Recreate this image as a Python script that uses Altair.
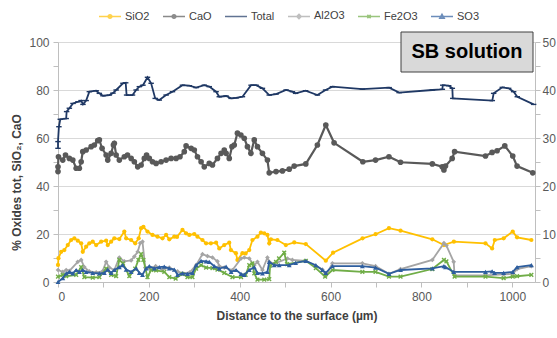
import altair as alt
import pandas as pd

SERIES = ["SiO2", "CaO", "Total", "Al2O3", "Fe2O3", "SO3"]
COLORS = ["#FFC000", "#595959", "#1F3864", "#A5A5A5", "#70AD47", "#2E5E9E"]

TOTAL_X = [0, 0, 2, 5, 18, 19, 25, 33, 44, 51, 55, 62, 69, 84, 91, 99, 113, 121, 128, 143,
           149, 151, 164, 172, 179, 187, 197, 205, 214, 223, 238, 252, 274, 289, 304, 322, 333, 348, 355, 370,
           381, 392, 406, 425, 436, 450, 465, 480, 502, 516, 523, 545, 571, 589, 604, 670, 729, 751, 824, 846,
           847, 860, 868, 869, 956, 959, 978, 992, 1003, 1011, 1047]
TOTAL_Y = [55.7, 58.5, 64.7, 67.8, 68.1, 71, 72.4, 74.4, 75.1, 75.6, 74, 75.6, 79.3, 79.7, 78.6, 77.6, 77.9, 78.7, 80, 82.8,
           83, 77.9, 77.9, 80, 81.4, 82, 85.3, 82.8, 76.5, 75.8, 77.9, 79.3, 82, 81.8, 81, 82, 81.4, 79.3, 77.2, 77.5,
           76.5, 76.7, 77.2, 82, 82, 80.7, 77.9, 78.3, 80, 79.3, 78.6, 79.7, 77.9, 80, 81.4, 80.4, 81, 78.9, 80, 80.3,
           82, 81.8, 80.7, 76.5, 75.6, 78.6, 81.1, 80.7, 79.3, 77.2, 74]

CAO_X = [0, 0, 1, 10.5, 16.5, 25, 32.6, 40, 47, 51, 54.5, 62, 73, 80, 87.5, 91, 97, 106, 109.5, 117,
         122, 124, 128, 135, 146, 153, 161, 168, 175.5, 183, 190, 195, 201, 208, 216, 227, 238, 249, 260, 268.5,
         278, 282, 293, 300, 307, 315, 322, 333, 340, 351, 359, 366, 370, 377, 383, 388, 395, 402.6, 410, 417,
         424.6, 432, 439, 450, 461, 465, 480, 494, 509, 520, 545.5, 571, 589.5, 607.7, 671, 699, 728.5, 754, 824, 845.7,
         849.5, 853, 867.7, 873, 941, 955.6, 966.6, 983.5, 1001, 1010.5, 1045]
CAO_Y = [46, 48, 52.2, 50.8, 52.9, 51.5, 50.8, 47.4, 47.4, 50.1, 54.3, 55, 56.4, 57.1, 58.9, 59.2, 55.7, 52.9, 50.8, 53.6,
         57.1, 57.8, 52.9, 50.8, 52.2, 52.9, 51.5, 50.1, 48, 48.75, 51.5, 52.9, 51.5, 50.1, 49.4, 50.1, 50.8, 51.5, 51.5, 52.2,
         54.3, 56.7, 55.7, 55, 52.2, 50.1, 48, 49.4, 48.75, 51.5, 53.6, 55, 53.6, 51.5, 56.4, 57.1, 62, 61.25, 59.9, 56.4,
         53.6, 59.2, 56.4, 53.6, 50.8, 45.5, 46, 46.3, 47, 48.3, 49.2, 57.1, 65.4, 58, 50.1, 50.8, 52.2, 49.9, 49.2, 48,
         46.7, 48.3, 51.5, 54.3, 52.5, 54, 54.7, 56.7, 52.5, 48.3, 45.5]

SIO2_X = [0, 1, 7, 14, 21.5, 29, 36, 43.5, 51, 54.5, 62, 69, 76.5, 84, 95, 106, 109.5, 117, 124, 135,
          146, 150, 161, 170, 177.6, 183, 188, 197, 208, 219, 230, 238, 245, 256, 262, 274, 282, 289, 300, 307,
          318, 326, 336.6, 348, 355, 366, 377, 380.6, 391.6, 395, 406, 413, 421, 428, 439, 446.6, 454, 461, 465, 468.6,
          483, 501.5, 520, 545.5, 589.5, 605.5, 670.4, 699, 728.5, 754, 824, 849.5, 871.4, 941, 955.6, 961.5, 981, 1001, 1010.5, 1042]
SIO2_Y = [7.1, 9.9, 12.6, 13.3, 15.4, 17.5, 18.2, 17.2, 16.1, 12.6, 14.7, 16.1, 16.8, 15.4, 16.8, 17.2, 15.4, 16.8, 18.2, 17.9,
          21, 18.2, 17.5, 16.1, 18.2, 22.4, 23, 21, 19.6, 18.9, 18.2, 19.6, 17.8, 18.9, 18.8, 21.7, 20.3, 19.6, 20, 18.9,
          17.5, 16.1, 16.1, 16.4, 14, 15.4, 16.4, 13.3, 12, 9.2, 12, 11.9, 13.3, 17.5, 18.9, 20.6, 20.3, 19.6, 16.1, 17.8,
          17.5, 15.4, 16.5, 15.8, 8.9, 12.2, 18.2, 19.9, 22.4, 21.4, 17.8, 15.4, 16.8, 16.1, 14, 17.5, 18.2, 21, 18.6, 17.5]

SO3_X = [0, 10.5, 18, 25, 32.6, 40, 47, 54.5, 62, 76.5, 91, 102, 109.5, 117, 124, 135, 142.5, 150, 161, 172,
         179, 186, 194, 201, 212, 223, 234, 245, 256, 263, 274, 285, 296, 304, 315, 326, 333, 344, 355, 370,
         381, 392, 403, 410, 421, 432, 439, 450, 461, 465, 476, 487, 509, 523, 545.5, 567.6, 582, 589.5, 604, 670,
         699, 728.5, 754, 824, 849.5, 853, 871, 941, 955.6, 961, 981, 1001, 1010.5, 1042]
SO3_Y = [0, 0.8, 1.8, 2.1, 1.8, 2.5, 2.1, 2.5, 2.1, 1.9, 1.8, 1.9, 2.6, 1.9, 2.5, 3.1, 3.5, 2.6, 2.1, 2.85,
         1.9, 1.5, 2.85, 3.3, 2.85, 3.1, 3.2, 2.85, 2.6, 1.5, 1.8, 1.7, 1.9, 3.5, 4.4, 4.3, 4.2, 3.3, 2.8, 3.2,
         2.1, 2.5, 1.7, 1.5, 2.5, 3.1, 1.9, 1.8, 2.1, 4.2, 3.5, 3.5, 3.5, 4.0, 4.4, 3.5, 2.5, 1.9, 3.3, 3.3,
         3.0, 1.7, 2.5, 2.85, 3.3, 3.1, 2.1, 2.1, 2.2, 1.9, 1.9, 2.1, 3.1, 3.5]

AL2O3_X = [0, 10.5, 18, 25, 43.5, 51, 58, 69, 84, 98, 106, 113, 124, 135, 146, 161, 168, 175.5, 181, 186,
           192, 201, 215, 230, 245, 263, 274, 290, 304, 318, 329, 340, 351, 355, 366, 384, 403, 410, 421, 432,
           439, 450, 461, 465, 476, 505, 516, 545.5, 582, 589.5, 604, 670, 699, 728.5, 754, 824, 849.5, 855, 871, 873,
           941, 981, 1001, 1010.5, 1042]
AL2O3_Y = [2.5, 2.1, 2.5, 2.3, 4.2, 4.6, 3.1, 2.2, 2.0, 2.2, 4.2, 3.0, 2.5, 5.1, 4.3, 4.5, 5.3, 6.3, 8.1, 8.4,
           3.0, 2.8, 3.3, 2.6, 3.0, 2.2, 1.8, 2.0, 3.5, 5.8, 5.4, 5.1, 4.3, 3.3, 3.0, 2.5, 4.9, 5.1, 4.9, 3.5,
           4.2, 2.5, 5.1, 4.2, 3.8, 4.9, 4.6, 4.4, 2.6, 1.3, 3.9, 3.9, 3.3, 1.7, 2.7, 4.6, 8.1, 7.6, 4.2, 1.4,
           1.4, 1.6, 1.7, 2.7, 3.3]

FE2O3_X = [0, 10.5, 18, 40, 51, 58, 76.5, 91, 106, 117, 128, 135, 143, 157, 170, 177, 183, 188, 197, 205,
           216, 234, 245, 259, 274, 285, 296, 304, 315, 326, 340, 351, 366, 384, 403, 413, 421, 428, 432, 439,
           454, 465, 467, 480, 486.5, 498, 504, 545.5, 567.6, 588, 604, 670, 699, 728.5, 754, 824, 849.5, 855, 873, 941,
           981, 1001, 1010.5, 1042]
FE2O3_Y = [1.1, 1.5, 1.2, 1.5, 3.1, 1.0, 0.9, 1.0, 2.8, 1.5, 1.2, 4.6, 3.9, 1.2, 2.8, 4.6, 5.8, 4.6, 1.0, 2.5,
           2.4, 2.1, 1.0, 0.7, 1.7, 1.0, 1.0, 2.8, 3.5, 3.0, 2.9, 2.6, 1.9, 1.0, 1.0, 1.5, 3.5, 3.9, 1.8, 0.5,
           0.5, 0.6, 3.4, 4.2, 4.9, 6.1, 3.7, 4.4, 2.9, 1.1, 2.5, 2.1, 2.1, 1.1, 1.1, 2.7, 4.6, 4.3, 1.1, 1.1,
           0.8, 1.1, 1.2, 1.5]

X_TICKS = list(range(0, 1001, 100))
YL_TICKS = list(range(0, 101, 10))
YR_TICKS = list(range(0, 51, 5))

FONT = "Liberation Sans"


def frame(name, xs, ys):
    return pd.DataFrame({"series": name, "x": xs, "y": ys, "i": list(range(len(xs)))})


frames = {
    "SiO2": frame("SiO2", SIO2_X, SIO2_Y),
    "CaO": frame("CaO", CAO_X, CAO_Y),
    "Total": frame("Total", TOTAL_X, TOTAL_Y),
    "Al2O3": frame("Al2O3", AL2O3_X, AL2O3_Y),
    "Fe2O3": frame("Fe2O3", FE2O3_X, FE2O3_Y),
    "SO3": frame("SO3", SO3_X, SO3_Y),
}
all_df = pd.concat(list(frames.values()), ignore_index=True)

X = alt.X("x:Q", scale=alt.Scale(domain=[0, 1050], nice=False),
          axis=alt.Axis(values=X_TICKS, format="d",
                        labelExpr="datum.value % 200 === 0 ? datum.label : ''",
                        title="Distance to the surface (µm)", grid=False,
                        labelPadding=4, titlePadding=8))
YL = alt.Y("y:Q", scale=alt.Scale(domain=[0, 100], nice=False),
           axis=alt.Axis(values=YL_TICKS, format="d",
                         labelExpr="datum.value % 20 === 0 ? datum.label : ''",
                         gridOpacity={"condition": {"test": "datum.value % 20 === 0", "value": 1}, "value": 0},
                         title="% Oxides tot, SiO₂, CaO", titleY=140, titlePadding=5,
                         labelPadding=4))
YR = alt.Y("y:Q", scale=alt.Scale(domain=[0, 50], nice=False),
           axis=alt.Axis(orient="right", values=YR_TICKS, format="d",
                         labelExpr="datum.value % 10 === 0 ? datum.label : ''",
                         grid=False, title=None, labelPadding=2))

MARKS = {
    "SiO2": dict(shape="circle", size=18, filled=True, width=1.8),
    "CaO": dict(shape="circle", size=32, filled=True, width=2.2),
    "Total": dict(shape="M-1,0H1", size=30, filled=False, width=1.8),
    "Al2O3": dict(shape="diamond", size=22, filled=True, width=1.8),
    "Fe2O3": dict(shape="M-1,-1L1,1M-1,1L1,-1", size=14, filled=False, width=1.8),
    "SO3": dict(shape="triangle-up", size=24, filled=True, width=1.8),
}


def series_layers(name, yenc):
    c = COLORS[SERIES.index(name)]
    m = MARKS[name]
    base = alt.Chart(frames[name])
    line = base.mark_line(color=c, strokeWidth=m["width"]).encode(
        x=X, y=yenc, order="i:Q")
    pts = base.mark_point(shape=m["shape"], size=m["size"], filled=m["filled"],
                          color=c, opacity=1, strokeWidth=1.4).encode(x=X, y=yenc)
    return [line, pts]


LEG_PATHS = [
    "M-1,0H1M0.17,0A0.17,0.17,0,1,1,-0.17,0A0.17,0.17,0,1,1,0.17,0Z",
    "M-1,0H1M0.17,0A0.17,0.17,0,1,1,-0.17,0A0.17,0.17,0,1,1,0.17,0Z",
    "M-1,0H1",
    "M-1,0H1M0,-0.2L0.2,0L0,0.2L-0.2,0Z",
    "M-1,0H1M-0.15,-0.15L0.15,0.15M-0.15,0.15L0.15,-0.15",
    "M-1,0H1M0,-0.2L0.2,0.15L-0.2,0.15Z",
]


def leg():
    return alt.Legend(title=None, orient="none", legendX=40, legendY=-38,
                      direction="horizontal", symbolSize=484, symbolStrokeWidth=1.5,
                      labelFont=FONT, labelFontSize=11, labelColor="#404040",
                      labelOffset=3, columnPadding=10, padding=0)


legend_layer = alt.Chart(all_df).transform_filter("false").mark_point(filled=True).encode(
    x=X, y=YL,
    fill=alt.Fill("series:N", scale=alt.Scale(domain=SERIES, range=COLORS), legend=leg()),
    stroke=alt.Stroke("series:N", scale=alt.Scale(domain=SERIES, range=COLORS), legend=leg()),
    shape=alt.Shape("series:N", scale=alt.Scale(domain=SERIES, range=LEG_PATHS), legend=leg()),
)

left_layers = []
for n in ["SiO2", "CaO", "Total"]:
    left_layers += series_layers(n, YL)
left = alt.layer(*left_layers, legend_layer)

right_layers = []
for n in ["Al2O3", "Fe2O3", "SO3"]:
    right_layers += series_layers(n, YR)

label_df = pd.DataFrame({"t": ["SB solution"]})
box = alt.Chart(label_df).mark_rect(fill="#D9D9D9", stroke="#404040", strokeWidth=1).encode(
    x=alt.value(343), x2=alt.value(475), y=alt.value(-10), y2=alt.value(30))
txt = alt.Chart(label_df).mark_text(font=FONT, fontSize=20, fontWeight="bold", color="#000000").encode(
    x=alt.value(409), y=alt.value(10), text="t:N")

right = alt.layer(*right_layers, box, txt)

chart = alt.layer(left, right).resolve_scale(y="independent").properties(
    width=477, height=240, autosize="none",
    padding={"left": 58, "top": 42, "right": 22, "bottom": 56},
).configure_axis(
    labelFont=FONT, labelFontSize=12, labelColor="#595959",
    titleFont=FONT, titleFontSize=12, titleFontWeight="bold", titleColor="#404040",
    domainColor="#BFBFBF", tickColor="#BFBFBF", tickSize=5, gridColor="#D9D9D9",
).configure_view(stroke=None)

chart.save("out.html", embed_options={"renderer": "svg", "actions": False})
